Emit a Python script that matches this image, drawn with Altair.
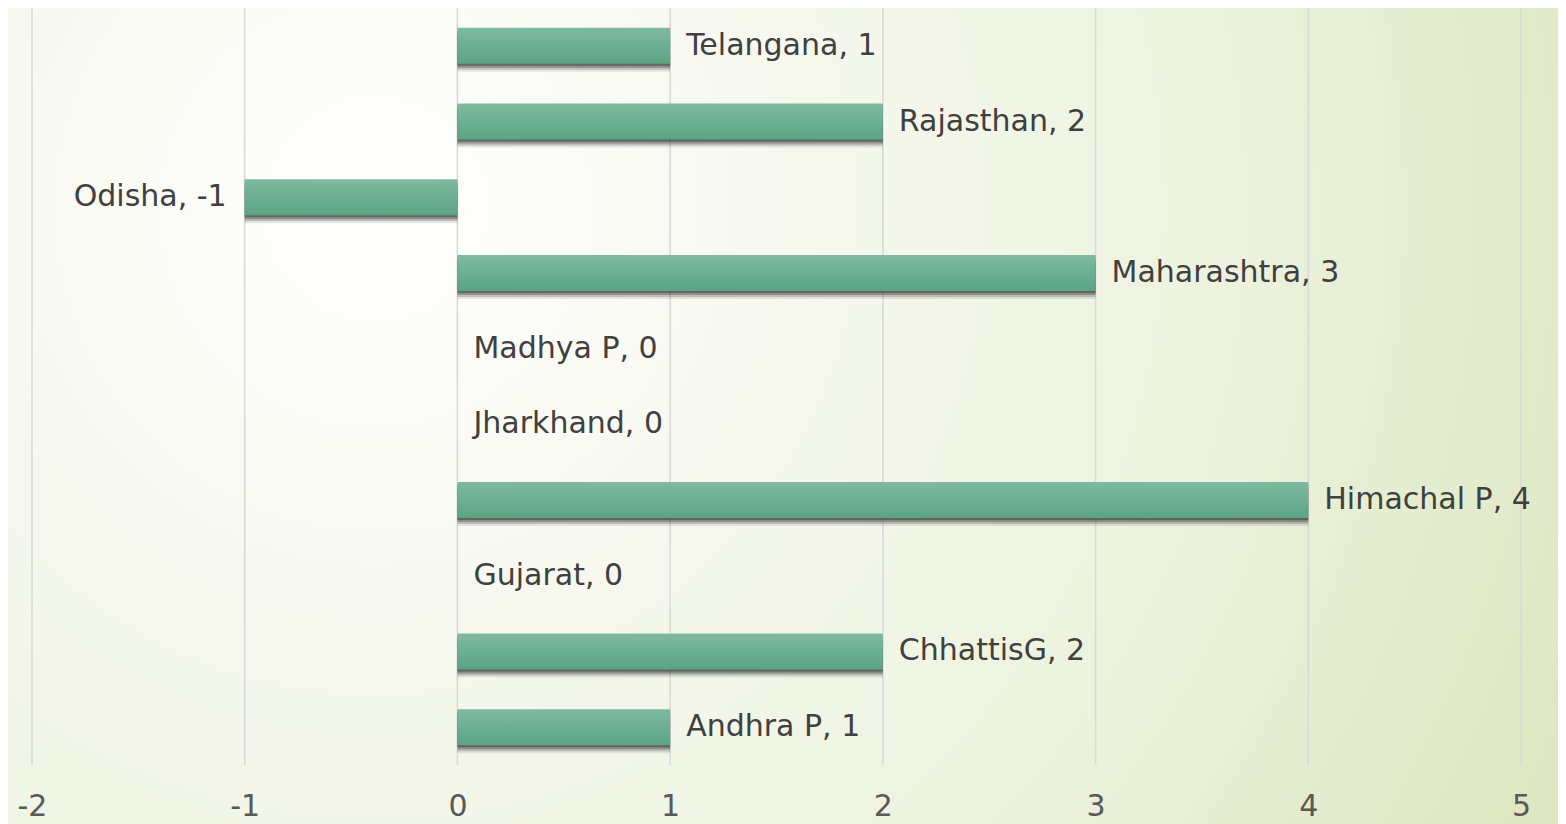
import altair as alt
import pandas as pd

states = ["Telangana", "Rajasthan", "Odisha", "Maharashtra", "Madhya P",
          "Jharkhand", "Himachal P", "Gujarat", "ChhattisG", "Andhra P"]
values = [1, 2, -1, 3, 0, 0, 4, 0, 2, 1]
x_ticks = [-2, -1, 0, 1, 2, 3, 4, 5]

df = pd.DataFrame({"state": states, "value": values})
df["label"] = [f"{s}, {v}" for s, v in zip(states, values)]
ticks_df = pd.DataFrame({"t": x_ticks})

FONT = "DejaVu Sans"
FS = 30

xs = alt.Scale(domain=[-2, 5], nice=False, zero=False)
ys = alt.Scale(domain=states, paddingInner=0.525, paddingOuter=0.2625)

bg = alt.Chart(pd.DataFrame({"a": [0]})).mark_rect(
    fill=alt.RadialGradient(
        gradient="radial",
        stops=[alt.GradientStop(offset=0, color="#FFFFFF"),
               alt.GradientStop(offset=0.25, color="#F8F9F1"),
               alt.GradientStop(offset=0.6, color="#EEF3E0"),
               alt.GradientStop(offset=1, color="#DBE6BE")],
        x1=0.24, y1=0.37, r1=0, x2=0.24, y2=0.37, r2=0.85,
    )
).encode(x=alt.value(-40), x2=alt.value(1560), y=alt.value(-20), y2=alt.value(840))

grid = alt.Chart(ticks_df).mark_rule(color="#D9D9D9", strokeWidth=1.6).encode(
    x=alt.X("t:Q", scale=xs,
            axis=alt.Axis(values=x_ticks, grid=False, domain=False, ticks=False,
                          tickSize=0, labelPadding=26, labelFontSize=FS,
                          labelColor="#595959", labelFont=FONT, title=None,
                          labelExpr="'' + datum.value",
                          labelFlush=False, zindex=1)),
    y=alt.value(0),
    y2=alt.value(757),
)

base = alt.Chart(df)
nz = base.transform_filter("datum.value != 0")


def shadow(off, op):
    return nz.mark_bar(color="#262626", opacity=op, yOffset=off).encode(
        x=alt.X("value:Q", scale=xs),
        x2=alt.datum(0),
        y=alt.Y("state:N", scale=ys, axis=None),
    )


bars = nz.mark_bar(
    color=alt.LinearGradient(
        gradient="linear",
        stops=[alt.GradientStop(offset=0, color="#7FBAA1"),
               alt.GradientStop(offset=1, color="#5AA484")],
        x1=0, x2=0, y1=0, y2=1,
    )
).encode(
    x=alt.X("value:Q", scale=xs),
    x2=alt.datum(0),
    y=alt.Y("state:N", scale=ys, axis=None),
)

pos_labels = base.transform_filter("datum.value >= 0").mark_text(
    align="left", baseline="middle", dx=16, fontSize=FS, font=FONT, color="#404040"
).encode(
    x=alt.X("value:Q", scale=xs),
    y=alt.Y("state:N", scale=ys, axis=None),
    text="label:N",
)

neg_labels = base.transform_filter("datum.value < 0").mark_text(
    align="right", baseline="middle", dx=-18, fontSize=FS, font=FONT, color="#404040"
).encode(
    x=alt.X("value:Q", scale=xs),
    y=alt.Y("state:N", scale=ys, axis=None),
    text="label:N",
)

chart = alt.layer(
    bg, grid, shadow(8, 0.1), shadow(6, 0.2), shadow(4, 0.3), shadow(2, 0.4),
    bars, pos_labels, neg_labels
).properties(
    width=1489, height=757,
    autosize=alt.AutoSizeParams(type="none"),
    padding={"left": 24, "top": 0, "right": 37, "bottom": 60},
).configure_view(stroke=None).configure(background="#F6F8EE")

chart.save("out.html", embed_options={"renderer": "svg", "actions": False})
